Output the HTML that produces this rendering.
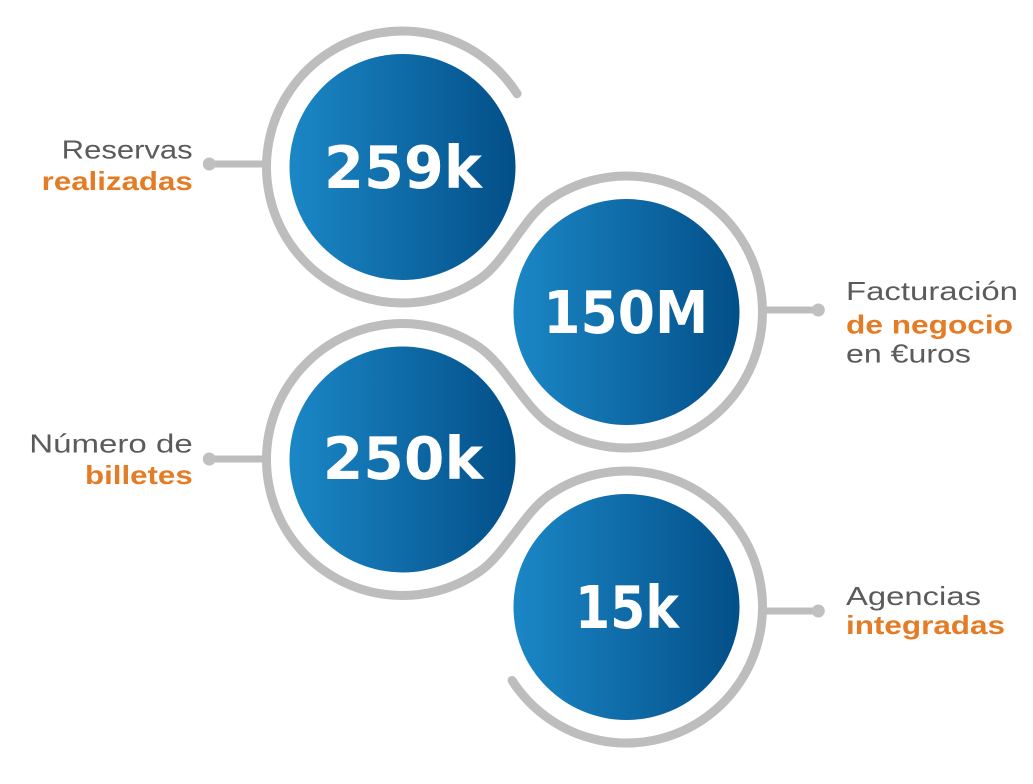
<!DOCTYPE html>
<html>
<head>
<meta charset="utf-8">
<style>
  html, body { margin: 0; padding: 0; background: #ffffff; }
  body { width: 1033px; height: 784px; overflow: hidden; }
  svg { display: block; }
  .lbl { font-family: "Liberation Sans", "DejaVu Sans", sans-serif; font-size: 26px; fill: #5b5b5b; }
  .lblb { font-family: "Liberation Sans", "DejaVu Sans", sans-serif; font-size: 26px; font-weight: bold; fill: #e47c25; }
  .num { font-family: "DejaVu Sans", "Liberation Sans", sans-serif; font-size: 59px; font-weight: bold; fill: #ffffff; }
</style>
</head>
<body>
<svg width="1033" height="784" viewBox="0 0 1033 784" xmlns="http://www.w3.org/2000/svg">
  <defs>
    <linearGradient id="g" x1="0" y1="0" x2="1" y2="0">
      <stop offset="0" stop-color="#1b87c6"/>
      <stop offset="1" stop-color="#034f88"/>
    </linearGradient>
  </defs>

  <!-- serpentine ring -->
  <path d="M 517.08 93.72
           A 136 136 0 1 0 480.66 278.30
           C 505.21 261.06 523.79 217.94 548.34 200.70
           A 136 136 0 1 1 549.18 423.87
           C 524.50 406.81 504.50 364.69 479.82 347.63
           A 136 136 0 1 0 479.82 571.37
           C 504.50 554.31 524.50 512.19 549.18 495.13
           A 136 136 0 1 1 512.06 680.47"
        fill="none" stroke="#bdbdbd" stroke-width="9" stroke-linecap="round"/>

  <!-- connectors -->
  <g stroke="#bdbdbd" stroke-width="7">
    <line x1="209" y1="164" x2="264" y2="164"/>
    <line x1="209" y1="459" x2="264" y2="459"/>
    <line x1="762" y1="310" x2="818" y2="310"/>
    <line x1="762" y1="611" x2="818" y2="611"/>
  </g>
  <g fill="#c0c0c0">
    <circle cx="209.3" cy="164" r="6.5"/>
    <circle cx="209.3" cy="459" r="6.5"/>
    <circle cx="818.3" cy="310" r="6.5"/>
    <circle cx="818.3" cy="611" r="6.5"/>
  </g>

  <!-- circles -->
  <circle cx="402.5" cy="167" r="113" fill="url(#g)"/>
  <circle cx="626.5" cy="312" r="113" fill="url(#g)"/>
  <circle cx="402.5" cy="459.5" r="113" fill="url(#g)"/>
  <circle cx="626.5" cy="607" r="113" fill="url(#g)"/>

  <!-- numbers -->
  <text class="num" x="324" y="188" textLength="158" lengthAdjust="spacingAndGlyphs">259k</text>
  <text class="num" x="543.3" y="333" textLength="165" lengthAdjust="spacingAndGlyphs">150M</text>
  <text class="num" x="322.7" y="479" textLength="160.6" lengthAdjust="spacingAndGlyphs">250k</text>
  <text class="num" x="575" y="628" textLength="104" lengthAdjust="spacingAndGlyphs">15k</text>

  <!-- labels left -->
  <text class="lbl" x="61.7" y="158.3" textLength="131" lengthAdjust="spacingAndGlyphs">Reservas</text>
  <text class="lblb" x="41.7" y="190" textLength="151" lengthAdjust="spacingAndGlyphs">realizadas</text>
  <text class="lbl" x="29.3" y="452.7" textLength="163.4" lengthAdjust="spacingAndGlyphs">Número de</text>
  <text class="lblb" x="85" y="484" textLength="107.7" lengthAdjust="spacingAndGlyphs">billetes</text>

  <!-- labels right -->
  <text class="lbl" x="846" y="300" textLength="172" lengthAdjust="spacingAndGlyphs">Facturación</text>
  <text class="lblb" x="846" y="333.3" textLength="167" lengthAdjust="spacingAndGlyphs">de negocio</text>
  <text class="lbl" x="846" y="362.3" textLength="125" lengthAdjust="spacingAndGlyphs">en €uros</text>
  <text class="lbl" x="846" y="605" textLength="135" lengthAdjust="spacingAndGlyphs">Agencias</text>
  <text class="lblb" x="846" y="634" textLength="159" lengthAdjust="spacingAndGlyphs">integradas</text>
</svg>
</body>
</html>
